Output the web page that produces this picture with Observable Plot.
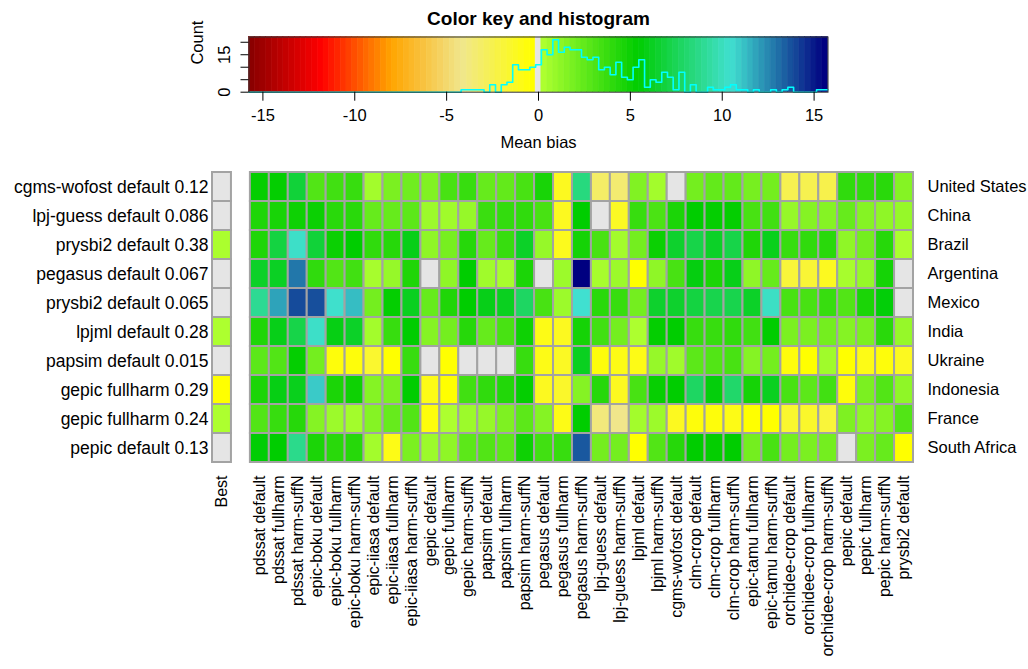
<!DOCTYPE html>
<html><head><meta charset="utf-8">
<script src="https://cdn.jsdelivr.net/npm/d3@7"></script>
<script src="https://cdn.jsdelivr.net/npm/@observablehq/plot@0.6"></script>
<style>
body{margin:0;background:#fff;}
#wrap{position:relative;width:1028px;height:669px;overflow:hidden;background:#fff;}
#key{position:absolute;left:0;top:0;}
#heat{position:absolute;left:0;top:160px;}
</style></head><body><div id="wrap"><div id="key"></div><div id="heat"></div></div>
<script>
const countries = ["United States","China","Brazil","Argentina","Mexico","India","Ukraine","Indonesia","France","South Africa"];
const models = ["pdssat default","pdssat fullharm","pdssat harm-suffN","epic-boku default","epic-boku fullharm","epic-boku harm-suffN","epic-iiasa default","epic-iiasa fullharm","epic-iiasa harm-suffN","gepic default","gepic fullharm","gepic harm-suffN","papsim default","papsim fullharm","papsim harm-suffN","pegasus default","pegasus fullharm","pegasus harm-suffN","lpj-guess default","lpj-guess harm-suffN","lpjml default","lpjml harm-suffN","cgms-wofost default","clm-crop default","clm-crop fullharm","clm-crop harm-suffN","epic-tamu fullharm","epic-tamu harm-suffN","orchidee-crop default","orchidee-crop fullharm","orchidee-crop harm-suffN","pepic default","pepic fullharm","pepic harm-suffN","prysbi2 default"];

// mean bias per country, one value per model (same order as models)
const usBias        = [5.3,5.3,6.8,3.0,3.5,3.8,0.6,1.8,2.1,1.6,3.3,3.8,2.4,2.5,3.3,4.7,-1.2,8.5,-3.1,-3.4,1.6,0.6,0.12,2.0,2.5,2.5,1.9,2.0,-2.5,-2.5,-2.4,4.0,4.0,4.2,1.5];
const chinaBias     = [4.5,4.7,5.0,5.1,4.2,4.2,2.4,2.4,2.7,0.8,0.7,1.0,3.7,3.9,4.0,3.3,-1.2,5.4,0.086,-1.3,3.8,3.2,4.6,5.4,5.3,5.3,3.3,3.5,1.0,1.5,1.5,2.4,1.5,1.2,1.0];
const brazilBias    = [4.5,7.0,10.3,6.8,5.1,5.4,4.0,4.3,6.0,1.2,1.9,4.3,2.4,3.8,6.4,1.0,-1.1,4.8,3.3,0.6,2.0,5.1,6.5,7.2,6.4,7.2,4.5,6.1,3.8,4.0,4.2,1.2,2.0,4.3,0.38];
const argentinaBias = [6.4,6.3,12.9,4.0,3.0,3.5,0.5,1.0,4.5,0.1,1.2,5.4,0.7,0.5,4.6,0.067,0.8,15.6,0.5,0.8,-0.3,1.2,3.3,5.8,4.6,6.0,1.2,2.4,-1.9,-1.8,-1.2,0.5,1.0,4.8,-0.12];
const mexicoBias    = [9.0,11.9,13.9,13.8,10.4,11.3,2.0,5.3,6.2,2.4,4.5,5.4,6.0,6.2,7.8,3.3,0.8,10.5,4.2,3.8,2.0,6.5,6.5,7.0,7.3,7.3,6.4,10.2,3.3,3.3,3.8,3.0,4.6,5.6,0.065];
const indiaBias     = [4.5,6.0,7.2,10.3,5.9,6.4,0.6,3.8,5.4,1.5,2.0,4.3,2.4,3.3,5.0,-0.9,-1.2,4.8,3.5,2.0,0.28,5.3,5.4,3.8,3.8,4.0,3.5,5.4,1.8,1.8,2.0,1.5,1.8,4.2,1.0];
const ukraineBias   = [2.7,3.0,5.3,2.0,-0.6,-0.6,-1.6,-0.3,3.8,-0.1,-0.35,0.1,0.015,-0.08,3.8,-0.9,-1.3,6.2,-0.6,-0.9,-0.9,1.0,0.7,2.7,3.0,3.3,1.5,2.0,-0.6,-0.3,0.7,-0.3,-0.9,-0.6,-1.2];
const indonesiaBias = [4.6,5.9,6.1,11.0,4.6,5.0,1.5,1.8,5.4,-0.9,-0.29,3.5,4.0,4.4,5.3,-1.2,-1.5,1.5,4.3,-1.2,3.3,5.2,5.4,7.8,5.7,8.0,4.8,6.2,3.3,2.7,3.5,-0.6,1.8,3.0,1.2];
const franceBias    = [3.0,3.8,4.3,1.5,0.8,0.6,1.5,2.4,3.0,-0.6,0.24,0.8,1.0,1.7,2.7,1.5,-0.9,5.4,-3.7,-4.1,0.6,0.8,-1.2,-0.6,-0.6,-0.9,-0.3,-0.3,-1.6,-1.5,-1.9,1.7,1.2,1.5,3.0];
const southAfricaBias = [5.5,5.4,8.8,4.6,4.2,4.3,0.6,-0.9,1.8,0.8,1.2,2.7,3.0,2.7,5.0,3.5,3.8,13.6,2.0,2.0,-0.3,3.0,4.3,5.4,5.3,5.4,2.0,3.3,2.0,1.8,2.0,0.13,1.8,2.4,-0.3];
const biasRows = [usBias,chinaBias,brazilBias,argentinaBias,mexicoBias,indiaBias,ukraineBias,indonesiaBias,franceBias,southAfricaBias];

// histogram counts of the colour-key bins (101 bins from -15.756 to 15.756)
const histCounts = [
  0,0,0,0,0,0,0,0,0,0, 0,0,0,0,0,0,0,0,0,0, 0,0,0,0,0,0,0,0,0,0, 0,0,0,0,0,0,0,
  1,1,1,1,0,3,0,3,4,11,9,9,10,
  11,
  17,15,21,16,18,17,17,14,13,14,
  9,10,7,12,6,5,10,13,2,5,
  4,8,6,1,8,0,3,0,0,2,
  1,1,2,3,1,1,0,1,0,0,
  1,0,1,2,0,0,0,0,1,1
];
const keyMin = -15.756, keyMax = 15.756;
const keyTicks = [-15,-10,-5,0,5,10,15];
const countTicks = [0,5,10,15,20];
const countLabels = [0,15];

const colorStops = [-15.6,-11.78,-7.96,-4.14,-0.312,-0.157,-0.156,0.156,0.157,0.312,5.41,10.5,15.6];
const colorRange = ["#8B0000","#FF0000","#FFA500","#F0E68C","#FFFF00","#FFFF00","#E5E5E5","#E5E5E5","#ADFF2F","#ADFF2F","#00CD00","#40E0D0","#000080"];
const colorScale = {type:"linear", domain: colorStops, range: colorRange, interpolate: "rgb"};
const font = "'Liberation Sans', Arial, Helvetica, sans-serif";

// ---- colour key ----
const binW = (keyMax - keyMin) / histCounts.length;
const keyBins = histCounts.map((count, i) => ({x1: keyMin + i*binW, x2: keyMin + (i+1)*binW, mid: keyMin + (i+0.5)*binW, count}));
const histLine = keyBins.map(b => ({x: b.x1, count: b.count})).concat([{x: keyMax, count: histCounts[histCounts.length-1]}]);
const yMax = d3.max(histCounts) / 0.95;

const key = Plot.plot({
  width: 1028, height: 160,
  marginLeft: 248.5, marginRight: 200.5, marginTop: 36.5, marginBottom: 68.3,
  x: {domain: [keyMin, keyMax]},
  y: {domain: [0, yMax]},
  color: colorScale,
  style: {fontFamily: font, fontSize: "16px", background: "white", overflow: "visible", color: "black"},
  marks: [
    Plot.rect(keyBins, {x1: "x1", x2: "x2", y1: 0, y2: yMax, fill: "mid", stroke: "mid", strokeWidth: 0.6}),
    Plot.line(histLine, {x: "x", y: "count", curve: "step-after", stroke: "#00FFFF", strokeWidth: 1.6}),
    Plot.frame({stroke: "#333"}),
    Plot.axisX({ticks: keyTicks, tickSize: 9, tickPadding: 8, tickFormat: d => String(d), fontSize: 16.5, label: null}),
    Plot.axisY({ticks: countTicks, tickSize: 8, tickFormat: () => "", label: null}),
    Plot.text(countLabels, {x: keyMin, y: d => d, text: d => String(d), rotate: -90, dx: -24, fontSize: 16.5, lineAnchor: "middle"}),
    Plot.text(["Count"], {frameAnchor: "left", rotate: -90, dx: -51, fontSize: 16.5, lineAnchor: "middle"}),
    Plot.text(["Mean bias"], {frameAnchor: "bottom", dy: 51, fontSize: 16.5, lineAnchor: "middle"}),
    Plot.text(["Color key and histogram"], {frameAnchor: "top", dy: -18, fontSize: 19, fontWeight: "bold", lineAnchor: "middle"})
  ]
});
document.getElementById("key").appendChild(key);

// ---- heatmap ----
const heatData = [];
countries.forEach((c, i) => models.forEach((m, j) => heatData.push({country: c, model: m, value: biasRows[i][j]})));
const fmt = d3.format(".2~g");
const bestLabel = new Map();
const bestData = countries.map((c, i) => {
  const j = d3.minIndex(biasRows[i], v => Math.abs(v));
  bestLabel.set(c, models[j] + " " + fmt(Math.abs(biasRows[i][j])));
  return {country: c, model: "Best", value: biasRows[i][j]};
});

const heat = Plot.plot({
  width: 1028, height: 509,
  marginLeft: 212, marginRight: 115, marginTop: 8, marginBottom: 204,
  x: {domain: ["Best", " ", ...models], padding: 0},
  y: {domain: countries, padding: 0},
  color: colorScale,
  style: {fontFamily: font, fontSize: "16px", background: "white", overflow: "visible", color: "black"},
  marks: [
    Plot.cell(bestData.concat(heatData), {x: "model", y: "country", fill: "value", stroke: "#a3a3a3", strokeWidth: 2, inset: 0}),
    Plot.axisX({anchor: "bottom", tickRotate: -90, tickSize: 0, tickPadding: 10, tickFormat: d => d.trim(), fontSize: 16, label: null}),
    Plot.axisY({anchor: "left", tickSize: 0, tickPadding: 4, tickFormat: c => bestLabel.get(c), fontSize: 17.5, label: null}),
    Plot.axisY({anchor: "right", tickSize: 0, tickPadding: 14, fontSize: 16.5, label: null})
  ]
});
document.getElementById("heat").appendChild(heat);
</script></body></html>
